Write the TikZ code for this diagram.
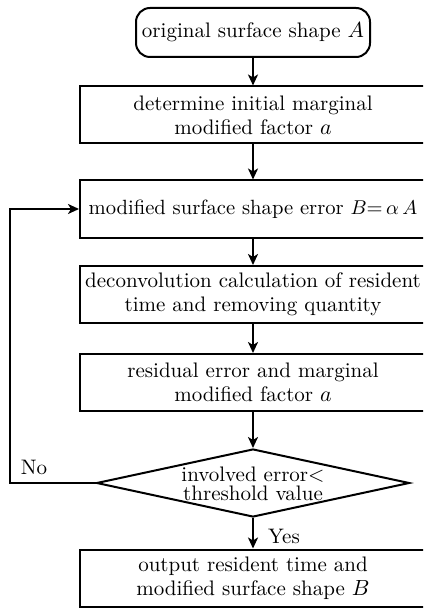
\documentclass[tikz,border=0pt]{standalone}
\usetikzlibrary{shapes.geometric,arrows.meta}
\begin{document}
\begin{tikzpicture}[x=0.5pt,y=-0.5pt,
  font=\fontsize{10.5}{12}\selectfont, line width=1pt,
  box/.style={draw, rectangle, minimum width=173pt, minimum height=28.5pt, align=center, inner sep=0pt},
  term/.style={draw, rectangle, rounded corners=7pt, minimum width=117pt, minimum height=24.5pt, inner sep=0pt},
  diam/.style={draw, diamond, minimum width=156.5pt, minimum height=34pt, inner sep=0pt},
  arr/.style={-{Stealth[length=5.5pt,width=5pt,inset=1.5pt]}},
  lab/.style={inner sep=0pt}]
\clip (0,0) rectangle (423,609);
\node[term] (t) at (253,32.5) {original surface shape $A$};
\node[box] (b1) at (253,115) {determine initial marginal\\modified factor $a$};
\node[box, font=\fontsize{10.3}{12}\selectfont] (b2) at (253,209) {modified surface shape error $B$=\,$\alpha\,A$};
\node[box] (b3) at (253,294.5) {deconvolution calculation of resident\\time and removing quantity};
\node[box] (b4) at (253,382.5) {residual error and marginal\\modified factor $a$};
\node[diam] (d) at (253,483) {};
\node[lab, align=center, font=\fontsize{10.5}{9.5}\selectfont] (dt) at (253,484) {involved error\textless\\threshold value};
\node[box] (b5) at (253,578) {output resident time and\\modified surface shape $B$};
\coordinate (c1) at (10,483);
\coordinate (c2) at (10,209);
\draw[arr] (t) -- (b1);
\draw[arr] (b1) -- (b2);
\draw[arr] (b2) -- (b3);
\draw[arr] (b3) -- (b4);
\draw[arr] (b4) -- (d);
\draw[arr] (d) -- (b5);
\draw[arr] (d.west) -- (c1) -- (c2) -- (b2.west);
\node[lab] (no) at (34,467) {No};
\node[lab] (yes) at (284,536) {Yes};
\end{tikzpicture}
\end{document}
